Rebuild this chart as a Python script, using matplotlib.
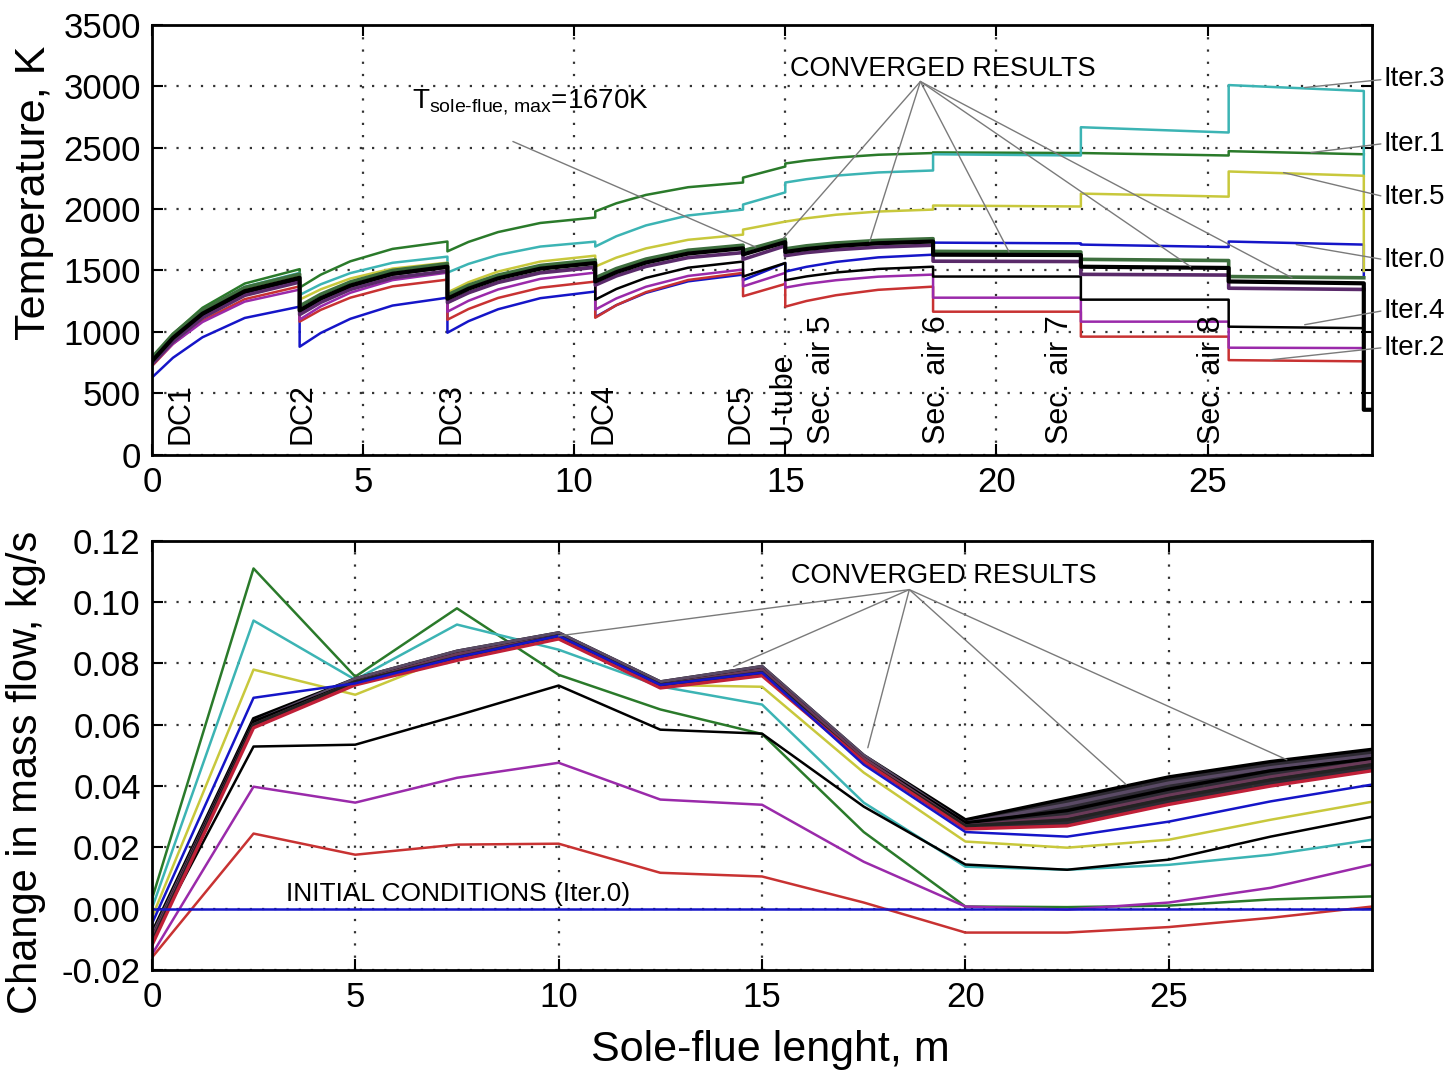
import numpy as np
import matplotlib.pyplot as plt
from matplotlib.ticker import FormatStrFormatter

plt.rcParams['font.family'] = ['Liberation Sans', 'DejaVu Sans']
plt.rcParams['mathtext.fontset'] = 'custom'
plt.rcParams['mathtext.rm'] = 'Liberation Sans'
plt.rcParams['mathtext.it'] = 'Liberation Sans:italic'
nan = np.nan

### Top panel: temperature along the sole-flue, K
x_temp = [0, 0.5, 1.2, 2.2, 3.5,
          3.5, 4.0, 4.7, 5.7, 7.0,
          7.0, 7.5, 8.2, 9.2, 10.5,
          10.5, 11.0, 11.7, 12.7, 14.0,
          14.0, 15.0,
          15.0, 15.5, 16.2, 17.2, 18.5,
          18.5, 22.0,
          22.0, 25.5,
          25.5, 28.7, 28.7, 29.0]

t_blue = [627, 789, 956, 1113, 1205,
          879, 991, 1106, 1214, 1278,
          993, 1087, 1184, 1274, 1328,
          1120, 1217, 1317, 1411, 1466,
          1420, 1560,
          1490, 1529, 1569, 1606, 1628,
          1726, 1720,
          1710, 1690,
          1735, 1710, 1450, nan]
t_green = [780, 984, 1196, 1393, 1510,
           1360, 1465, 1574, 1675, 1735,
           1655, 1732, 1812, 1886, 1930,
           1980, 2046, 2114, 2177, 2215,
           2255, 2345,
           2370, 2394, 2418, 2441, 2455,
           2460, 2455,
           2455, 2435,
           2470, 2445, nan, nan]
t_red = [720, 902, 1091, 1266, 1370,
         1083, 1179, 1278, 1370, 1425,
         1099, 1186, 1276, 1359, 1409,
         1115, 1217, 1323, 1422, 1480,
         1290, 1390,
         1205, 1251, 1298, 1342, 1368,
         1164, 1164,
         961, 961,
         770, 760, nan, nan]
t_cyan = [770, 969, 1175, 1366, 1480,
          1300, 1387, 1478, 1562, 1612,
          1482, 1553, 1626, 1694, 1734,
          1694, 1778, 1866, 1947, 1995,
          2036, 2135,
          2215, 2242, 2271, 2297, 2313,
          2445, 2435,
          2665, 2622,
          3008, 2960, 2270, nan]
t_magenta = [730, 902, 1080, 1246, 1344,
             1100, 1207, 1318, 1421, 1482,
             1164, 1253, 1345, 1431, 1482,
             1181, 1272, 1367, 1455, 1507,
             1370, 1480,
             1360, 1390, 1420, 1449, 1466,
             1278, 1278,
             1083, 1083,
             871, 868, nan, nan]
t_yellow = [755, 952, 1157, 1347, 1460,
            1262, 1346, 1434, 1515, 1563,
            1320, 1404, 1491, 1572, 1620,
            1531, 1604, 1679, 1749, 1791,
            1832, 1897,
            1897, 1924, 1953, 1979, 1995,
            2028, 2020,
            2125, 2100,
            2305, 2270, 1495, nan]
t_black = [750, 939, 1135, 1317, 1425,
           1164, 1265, 1369, 1466, 1523,
           1238, 1320, 1405, 1484, 1531,
           1262, 1349, 1439, 1522, 1572,
           1450, 1560,
           1420, 1451, 1483, 1512, 1530,
           1450, 1450,
           1262, 1262,
           1042, 1030, nan, nan]
# converged iterations (dark band)
t_conv_hi = [790, 980, 1178, 1361, 1470,
             1210, 1306, 1406, 1500, 1555,
             1300, 1380, 1462, 1540, 1585,
             1440, 1515, 1592, 1664, 1705,
             1660, 1755,
             1675, 1700, 1723, 1744, 1758,
             1655, 1650,
             1590, 1580,
             1450, 1440, nan, nan]
t_conv = [760, 950, 1148, 1331, 1440,
          1175, 1274, 1377, 1473, 1530,
          1270, 1351, 1435, 1514, 1560,
          1410, 1486, 1564, 1637, 1680,
          1630, 1730,
          1650, 1674, 1698, 1721, 1735,
          1628, 1625,
          1530, 1520,
          1410, 1395, 366, 366]
t_conv_lo = [735, 920, 1115, 1297, 1405,
             1140, 1240, 1345, 1440, 1495,
             1238, 1318, 1402, 1480, 1525,
             1380, 1455, 1532, 1604, 1645,
             1590, 1700,
             1620, 1645, 1668, 1690, 1705,
             1575, 1572,
             1468, 1462,
             1355, 1345, nan, nan]

stations = ['DC1', 'DC2', 'DC3', 'DC4', 'DC5', 'U-tube',
            'Sec. air 5', 'Sec. air 6', 'Sec. air 7', 'Sec. air 8']
station_x = [0.69, 3.56, 7.1, 10.7, 13.93, 14.93, 15.88, 18.6, 21.5, 25.1]

iter_labels = ['Iter.3', 'Iter.1', 'Iter.5', 'Iter.0', 'Iter.4', 'Iter.2']
iter_label_t = [3054, 2532, 2101, 1588, 1173, 872]
iter_target_x = [27.3, 27.45, 26.8, 27.1, 27.3, 26.5]
iter_target_t = [2988, 2459, 2296, 1710, 1058, 773]

conv_top_x = [14.95, 17.0, 20.3, 24.6, 27.0]
conv_top_t = [1760, 1735, 1650, 1530, 1440]

### Bottom panel: change in mass flow, kg/s
x_flow = [0, 2.5, 5, 7.5, 10, 12.5, 15, 17.5, 20, 22.5, 25, 27.5, 30]
m_iter0 = [0, 0, 0, 0, 0, 0, 0, 0, 0, 0, 0, 0, 0]
m_green = [0.003, 0.111, 0.0757, 0.098, 0.0763, 0.065, 0.057, 0.025, 0.0007, 0.0005, 0.001, 0.003, 0.004]
m_cyan = [0.000, 0.094, 0.0747, 0.0927, 0.0845, 0.0725, 0.0666, 0.0346, 0.0137, 0.0127, 0.0143, 0.0176, 0.0225]
m_yellow = [-0.003, 0.078, 0.0698, 0.083, 0.088, 0.073, 0.0724, 0.0444, 0.0219, 0.0199, 0.0225, 0.029, 0.0349]
m_blue = [-0.005, 0.0688, 0.0735, 0.082, 0.089, 0.073, 0.077, 0.047, 0.025, 0.0235, 0.0284, 0.035, 0.0405]
m_black = [-0.010, 0.0529, 0.0535, 0.063, 0.0728, 0.0584, 0.0571, 0.0333, 0.0144, 0.0127, 0.016, 0.0235, 0.030]
m_magenta = [-0.015, 0.0398, 0.0346, 0.0427, 0.0476, 0.0356, 0.0339, 0.0153, 0.0007, -0.0003, 0.002, 0.0068, 0.0144]
m_red = [-0.016, 0.0245, 0.0176, 0.0209, 0.0212, 0.0117, 0.0105, 0.002, -0.0078, -0.0078, -0.006, -0.003, 0.0007]
m_conv = [
    [-0.008, 0.062, 0.075, 0.084, 0.090, 0.074, 0.079, 0.050, 0.029, 0.036, 0.043, 0.048, 0.052],
    [-0.009, 0.061, 0.075, 0.084, 0.090, 0.074, 0.079, 0.050, 0.028, 0.034, 0.041, 0.046, 0.050],
    [-0.010, 0.061, 0.074, 0.083, 0.089, 0.073, 0.078, 0.049, 0.028, 0.032, 0.039, 0.045, 0.049],
    [-0.010, 0.060, 0.074, 0.083, 0.089, 0.073, 0.078, 0.049, 0.027, 0.030, 0.037, 0.043, 0.048],
    [-0.011, 0.060, 0.074, 0.082, 0.089, 0.073, 0.077, 0.048, 0.027, 0.029, 0.036, 0.042, 0.047],
    [-0.012, 0.059, 0.073, 0.081, 0.088, 0.072, 0.076, 0.048, 0.026, 0.027, 0.034, 0.040, 0.045],
]
conv_colors = ['black', '#5a4a65', 'black', '#6a3a58', '#222222', '#c02038']

conv_bot_x = [10.0, 14.3, 17.6, 23.95, 27.9]
conv_bot_m = [0.089, 0.079, 0.0525, 0.0405, 0.0486]

c_b = '#1515c8'
c_g = '#2a7a2a'
c_r = '#c83232'
c_c = '#3cb4b4'
c_m = '#9a2aaa'
c_y = '#c8c83c'
c_k = 'black'
lead = '#7a7a7a'


def style_axes(ax):
    ax.grid(True, color='#333333', linestyle=(0, (1, 4.5)), linewidth=1.6)
    ax.tick_params(direction='in', top=True, right=True, length=8, width=1.5,
                   labelsize=25, pad=8)
    for sp in ax.spines.values():
        sp.set_linewidth(2)


def leader(ax, p0, p1):
    ax.annotate('', xy=p1, xytext=p0,
                arrowprops=dict(arrowstyle='-', color=lead, lw=1,
                                shrinkA=0, shrinkB=0),
                annotation_clip=False)


fig = plt.figure(figsize=(14.46, 10.70), dpi=100)
ax1 = fig.add_axes([0.105, 0.575, 0.844, 0.402])
ax2 = fig.add_axes([0.105, 0.0935, 0.844, 0.401])

# ---- top panel
for t, c in [(t_blue, c_b), (t_green, c_g), (t_red, c_r), (t_cyan, c_c),
             (t_magenta, c_m), (t_yellow, c_y), (t_black, c_k)]:
    ax1.plot(x_temp, t, color=c, lw=1.8)
ax1.plot(x_temp, t_conv_hi, color='#3d6e3d', lw=2.6)
ax1.plot(x_temp, t_conv_lo, color='#5a2a6a', lw=2.6)
ax1.plot(x_temp, t_conv, color='black', lw=3)

ax1.set_xlim(0, 28.9)
ax1.set_ylim(0, 3500)
ax1.set_xticks([0, 5, 10, 15, 20, 25])
ax1.set_yticks(np.arange(0, 3501, 500))
style_axes(ax1)
ax1.set_ylabel('Temperature, K', fontsize=31)
ax1.yaxis.set_label_coords(-0.08, 0.61)

for name, xs in zip(stations, station_x):
    ax1.text(xs, 90, name, rotation=90, ha='center', va='bottom', fontsize=22)

ax1.text(15.12, 3078, 'CONVERGED RESULTS', fontsize=19.5, ha='left', va='baseline')
for tx, tt in zip(conv_top_x, conv_top_t):
    leader(ax1, (18.2, 3037), (tx, tt))

ax1.text(6.16, 2870, r'T$_{\text{sole-flue, max}}$=1670K', fontsize=20,
         ha='left', va='center')
leader(ax1, (8.55, 2549), (14.3, 1690))

for lab, lt, tx, tt in zip(iter_labels, iter_label_t, iter_target_x, iter_target_t):
    ax1.annotate(lab, xy=(tx, tt), xytext=(29.17, lt), ha='left', va='center',
                 fontsize=20, annotation_clip=False,
                 arrowprops=dict(arrowstyle='-', color=lead, lw=1,
                                 shrinkA=0, shrinkB=0, relpos=(0, 0.5)))

# ---- bottom panel
ax2.plot(x_flow, m_green, color=c_g, lw=1.8)
ax2.plot(x_flow, m_cyan, color=c_c, lw=1.8)
ax2.plot(x_flow, m_yellow, color=c_y, lw=1.8)
ax2.plot(x_flow, m_black, color=c_k, lw=1.8)
ax2.plot(x_flow, m_magenta, color=c_m, lw=1.8)
ax2.plot(x_flow, m_red, color=c_r, lw=1.8)
ax2.fill_between(x_flow, m_conv[-1], m_conv[0], color='#2e2a33', lw=0)
for m, c in zip(m_conv, conv_colors):
    ax2.plot(x_flow, m, color=c, lw=2.4)
ax2.plot(x_flow, m_blue, color=c_b, lw=1.8)
ax2.plot(x_flow, m_iter0, color=c_b, lw=1.8)

ax2.set_xlim(0, 30)
ax2.set_ylim(-0.02, 0.12)
ax2.set_xticks([0, 5, 10, 15, 20, 25])
ax2.set_yticks(np.arange(-0.02, 0.121, 0.02))
ax2.yaxis.set_major_formatter(FormatStrFormatter('%.2f'))
style_axes(ax2)
ax2.set_ylabel('Change in mass flow, kg/s', fontsize=30)
ax2.yaxis.set_label_coords(-0.087, 0.46)
ax2.set_xlabel('Sole-flue lenght, m', fontsize=31)
ax2.xaxis.set_label_coords(0.507, -0.14)

ax2.text(15.72, 0.1064, 'CONVERGED RESULTS', fontsize=19.5, ha='left', va='baseline')
for tx, tm in zip(conv_bot_x, conv_bot_m):
    leader(ax2, (18.62, 0.1041), (tx, tm))
ax2.text(3.29, 0.0025, 'INITIAL CONDITIONS (Iter.0)', fontsize=19,
         ha='left', va='baseline')

fig.savefig('out.png', dpi=100)
